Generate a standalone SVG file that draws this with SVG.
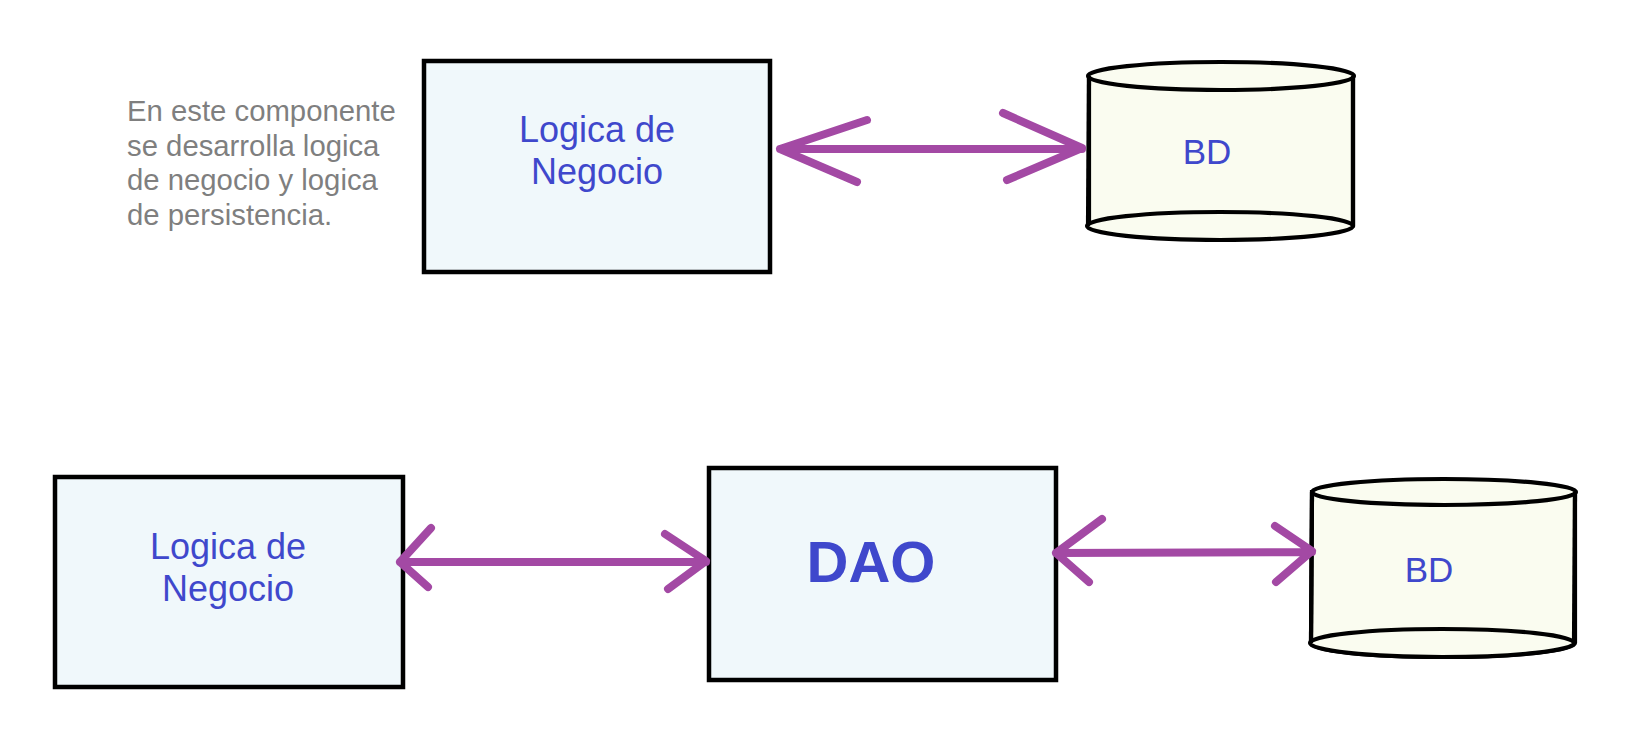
<svg xmlns="http://www.w3.org/2000/svg" width="1644" height="745" viewBox="0 0 1644 745">
<style>
.box{fill:#F0F8FB;stroke:#000;stroke-width:4.5}
.cyl{fill:#FAFCF0;stroke:#000;stroke-width:4.2}
.side{stroke:#000;stroke-width:4.2}
.lbl{font-family:"Liberation Sans",Arial,sans-serif;fill:#3F48CC;text-anchor:middle}
.note{font-family:"Liberation Sans",Arial,sans-serif;fill:#7F7F7F;font-size:29.3px}
.arr{fill:none;stroke:#A349A4;stroke-width:8;stroke-linecap:round;stroke-linejoin:round}
</style>
<rect width="1644" height="745" fill="#fff"/>
<g id="note">
<text class="note" x="127" y="121">En este componente</text>
<text class="note" x="127" y="155.5">se desarrolla logica</text>
<text class="note" x="127" y="190">de negocio y logica</text>
<text class="note" x="127" y="224.5">de persistencia.</text>
</g>
<g id="logica1">
<rect class="box" x="424" y="61" width="346" height="211"/>
<text class="lbl" x="597" y="142" font-size="36">Logica de</text>
<text class="lbl" x="597" y="184" font-size="36">Negocio</text>
</g>
<g id="bd1">
<path class="cyl" d="M1089 76 L1089 226 A133 14 0 0 0 1353 226 L1353 76 Z" stroke="none"/>
<ellipse class="cyl" cx="1221" cy="76" rx="133" ry="14"/>
<ellipse class="cyl" cx="1220" cy="226" rx="133" ry="14"/>
<line class="side" x1="1089" y1="76" x2="1088" y2="226"/>
<line class="side" x1="1353" y1="76" x2="1353" y2="226"/>
<text class="lbl" x="1207" y="164" font-size="35">BD</text>
</g>
<g id="logica2">
<rect class="box" x="55" y="477" width="348" height="210"/>
<text class="lbl" x="228" y="559" font-size="36">Logica de</text>
<text class="lbl" x="228" y="601" font-size="36">Negocio</text>
</g>
<g id="dao">
<rect class="box" x="709" y="468" width="347" height="212"/>
<text class="lbl" x="871" y="582" font-size="58" font-weight="bold">DAO</text>
</g>
<g id="bd2">
<path class="cyl" d="M1312 492 L1311 643 A132 14 0 0 0 1575 643 L1575 492 Z" stroke="none"/>
<ellipse class="cyl" cx="1444" cy="492" rx="132" ry="13"/>
<ellipse class="cyl" cx="1442" cy="643" rx="132" ry="14"/>
<line class="side" x1="1312" y1="492" x2="1311" y2="643"/>
<line class="side" x1="1575" y1="492" x2="1574" y2="643"/>
<text class="lbl" x="1429" y="582" font-size="35">BD</text>
</g>
<g id="connectors">
<path class="arr" d="M780 149 L1082 149 M867 120 L780 149 L857 182 M1003 113 L1082 148 L1007 180"/>
<path class="arr" d="M400 562 L706 562 M431 528 L400 562 L428 587 M665 534 L706 561 L668 589"/>
<path class="arr" d="M1056 553 L1312 552 M1102 519 L1056 553 L1089 582 M1275 526 L1312 551 L1276 582"/>
</g>
</svg>
